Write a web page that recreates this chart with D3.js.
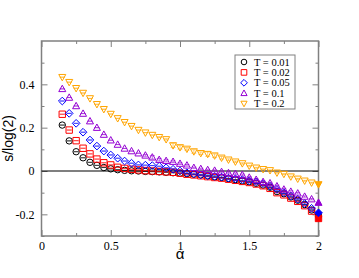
<!DOCTYPE html>
<html>
<head>
<meta charset="utf-8">
<script src="https://cdn.jsdelivr.net/npm/d3@7"></script>
<style>
  body { margin: 0; background: #fff; }
  svg { display: block; }
</style>
</head>
<body>
<div id="chart"></div>
<script>
const ALPHA = [0.15, 0.2, 0.25, 0.3, 0.35, 0.4, 0.45, 0.5, 0.55, 0.6, 0.65, 0.7, 0.75, 0.8,
  0.85, 0.9, 0.95, 1.0, 1.05, 1.1, 1.15, 1.2, 1.25, 1.3, 1.35, 1.4, 1.45, 1.5, 1.55, 1.6,
  1.65, 1.7, 1.75, 1.8, 1.85, 1.9, 1.95, 2.0];

const LABELS = ["T = 0.01", "T = 0.02", "T = 0.05", "T = 0.1", "T = 0.2"];

const S_T001 = [0.212, 0.139, 0.089, 0.061, 0.040, 0.026, 0.016, 0.010, 0.006, 0.003, 0.001,
  0.000, -0.002, -0.003, -0.004, -0.006, -0.008, -0.010, -0.012, -0.015, -0.018, -0.022,
  -0.027, -0.030, -0.035, -0.040, -0.046, -0.050, -0.057, -0.065, -0.075, -0.095, -0.105,
  -0.120, -0.135, -0.155, -0.180, -0.208];
const S_T002 = [0.262, 0.189, 0.140, 0.105, 0.079, 0.055, 0.038, 0.028, 0.017, 0.012, 0.008,
  0.005, 0.002, 0.000, -0.002, -0.004, -0.006, -0.010, -0.015, -0.018, -0.022, -0.026,
  -0.030, -0.033, -0.038, -0.043, -0.048, -0.053, -0.060, -0.068, -0.080, -0.100, -0.110,
  -0.125, -0.140, -0.160, -0.185, -0.219];
const S_T005 = [0.323, 0.266, 0.220, 0.179, 0.143, 0.115, 0.092, 0.074, 0.059, 0.046, 0.036,
  0.028, 0.027, 0.025, 0.022, 0.015, 0.008, 0.000, -0.008, -0.013, -0.018, -0.022, -0.025,
  -0.028, -0.033, -0.036, -0.040, -0.045, -0.050, -0.058, -0.070, -0.085, -0.100, -0.115,
  -0.130, -0.150, -0.172, -0.193];
const S_T01 = [0.379, 0.339, 0.300, 0.265, 0.230, 0.200, 0.168, 0.142, 0.122, 0.104, 0.092,
  0.082, 0.072, 0.063, 0.052, 0.047, 0.043, 0.034, 0.026, 0.015, 0.010, 0.005, 0.002, -0.004,
  -0.009, -0.013, -0.018, -0.030, -0.040, -0.050, -0.056, -0.070, -0.085, -0.095, -0.103,
  -0.118, -0.130, -0.146];
const S_T02 = [0.433, 0.410, 0.382, 0.360, 0.335, 0.308, 0.285, 0.263, 0.243, 0.225, 0.207,
  0.189, 0.177, 0.166, 0.156, 0.146, 0.118, 0.109, 0.102, 0.090, 0.082, 0.078, 0.071, 0.061,
  0.052, 0.043, 0.035, 0.024, 0.015, 0.008, 0.003, -0.008, -0.014, -0.026, -0.036, -0.045,
  -0.054, -0.062];

// error bars (mostly tiny)
const E_T01 = [0, 0, 0, 0, 0, 0, 0, 0, 0, 0, 0, 0, 0.004, 0.008, 0.006, 0.005, 0.004, 0.004,
  0.004, 0.003, 0.003, 0.003, 0.003, 0.004, 0.004, 0.004, 0.004, 0.004, 0.004, 0.004, 0.004,
  0.005, 0.005, 0.004, 0.004, 0.003, 0.003, 0];
const E_T02 = [0, 0, 0, 0, 0, 0, 0, 0, 0, 0, 0, 0, 0, 0, 0.002, 0.003, 0.010, 0.008, 0.006,
  0.008, 0.006, 0.010, 0.008, 0.006, 0.004, 0.003, 0.003, 0.002, 0.002, 0.002, 0.002, 0.002,
  0.002, 0.002, 0.002, 0.002, 0.002, 0];
const E_T005 = [0, 0, 0, 0, 0, 0, 0, 0, 0, 0, 0, 0, 0, 0, 0, 0, 0.003, 0.003, 0.003, 0.003,
  0.003, 0.004, 0.004, 0.005, 0.006, 0.008, 0.006, 0.006, 0.008, 0.006, 0.005, 0.005, 0.004,
  0.004, 0.003, 0.003, 0.003, 0];

const SERIES = [
  { values: S_T001, errors: null, color: "#000000", shape: "circle" },
  { values: S_T002, errors: null, color: "#ff0000", shape: "square" },
  { values: S_T005, errors: E_T005, color: "#0000ff", shape: "diamond" },
  { values: S_T01, errors: E_T01, color: "#9400d3", shape: "up" },
  { values: S_T02, errors: E_T02, color: "#ffa500", shape: "down" }
];

const WIDTH = 359;
const HEIGHT = 278;
const LEFT = 41.5, RIGHT = 318.5, TOP = 41, BOTTOM = 236;
const AXIS_COLOR = "#808080";
const SERIF = "'Liberation Serif', 'Times New Roman', Times, serif";
const SANS = "'Liberation Sans', Arial, Helvetica, sans-serif";

const x = d3.scaleLinear().domain([0, 2]).range([LEFT, RIGHT]);
const y = d3.scaleLinear().domain([-0.3, 0.6]).range([BOTTOM, TOP]);

function marker(shape, r) {
  if (shape === "circle") {
    return `M${r},0A${r},${r} 0 1,1 ${-r},0A${r},${r} 0 1,1 ${r},0Z`;
  }
  if (shape === "square") {
    return `M${-r},${-r}H${r}V${r}H${-r}Z`;
  }
  if (shape === "diamond") {
    const d = r * 1.2;
    return `M0,${-d}L${d},0L0,${d}L${-d},0Z`;
  }
  if (shape === "up") {
    return `M0,${-r * 1.15}L${r * 1.1},${r * 0.85}L${-r * 1.1},${r * 0.85}Z`;
  }
  return `M0,${r * 1.15}L${r * 1.1},${-r * 0.85}L${-r * 1.1},${-r * 0.85}Z`;
}

const svg = d3.select("#chart").append("svg")
    .attr("width", WIDTH)
    .attr("height", HEIGHT);

// axes: ticks pointing inward on all four sides
const xMajor = [0, 0.5, 1, 1.5, 2];
const xMinor = [0.25, 0.75, 1.25, 1.75];
const yMajor = [-0.2, 0, 0.2, 0.4];
const yMinor = [-0.3, -0.1, 0.1, 0.3, 0.5];

function styleAxis(g) {
  g.attr("font-family", SERIF).attr("font-size", 12);
  g.select(".domain").remove();
  g.selectAll(".tick line").attr("stroke", AXIS_COLOR).attr("stroke-width", 1);
  g.selectAll(".tick text")
      .attr("fill", "#000")
      .style("font-family", SERIF)
      .style("font-size", "12px");
}

svg.append("g")
    .attr("transform", `translate(0,${BOTTOM})`)
    .call(d3.axisBottom(x).tickValues(xMajor).tickSize(-6).tickPadding(5).tickFormat(d => String(d)))
    .call(styleAxis);
svg.append("g")
    .attr("transform", `translate(0,${BOTTOM})`)
    .call(d3.axisBottom(x).tickValues(xMinor).tickSize(-3).tickFormat(""))
    .call(styleAxis);
svg.append("g")
    .attr("transform", `translate(0,${TOP})`)
    .call(d3.axisTop(x).tickValues(xMajor).tickSize(-6).tickFormat(""))
    .call(styleAxis);
svg.append("g")
    .attr("transform", `translate(0,${TOP})`)
    .call(d3.axisTop(x).tickValues(xMinor).tickSize(-3).tickFormat(""))
    .call(styleAxis);

svg.append("g")
    .attr("transform", `translate(${LEFT},0)`)
    .call(d3.axisLeft(y).tickValues(yMajor).tickSize(-6).tickPadding(7).tickFormat(d => String(d)))
    .call(styleAxis);
svg.append("g")
    .attr("transform", `translate(${LEFT},0)`)
    .call(d3.axisLeft(y).tickValues(yMinor).tickSize(-3).tickFormat(""))
    .call(styleAxis);
svg.append("g")
    .attr("transform", `translate(${RIGHT},0)`)
    .call(d3.axisRight(y).tickValues(yMajor).tickSize(-6).tickFormat(""))
    .call(styleAxis);
svg.append("g")
    .attr("transform", `translate(${RIGHT},0)`)
    .call(d3.axisRight(y).tickValues(yMinor).tickSize(-3).tickFormat(""))
    .call(styleAxis);

svg.append("rect")
    .attr("x", LEFT)
    .attr("y", TOP)
    .attr("width", RIGHT - LEFT)
    .attr("height", BOTTOM - TOP)
    .attr("fill", "none")
    .attr("stroke", AXIS_COLOR)
    .attr("stroke-width", 1.5);

// zero line
svg.append("line")
    .attr("x1", x(0)).attr("x2", x(2))
    .attr("y1", y(0)).attr("y2", y(0))
    .attr("stroke", "#000")
    .attr("stroke-width", 1.2);

// data
SERIES.forEach(s => {
  const pts = s.values.map((v, i) => ({ a: ALPHA[i], v: v, e: s.errors ? s.errors[i] : 0 }));
  const g = svg.append("g");

  const pt = g.selectAll("g")
    .data(pts)
    .enter().append("g")
      .attr("transform", d => `translate(${x(d.a)},${y(d.v)})`);

  // error bars with caps (a cap crosses the marker when the error is tiny)
  pt.append("path")
      .attr("d", d => {
        const up = y(d.v + d.e) - y(d.v);
        const dn = y(d.v - d.e) - y(d.v);
        return `M0,${up}V${dn}M-2.5,${up}H2.5M-2.5,${dn}H2.5`;
      })
      .attr("stroke", s.color)
      .attr("stroke-opacity", 0.55)
      .attr("stroke-width", 1)
      .attr("fill", "none");

  pt.append("path")
      .attr("d", marker(s.shape, 3.2))
      .attr("fill", d => d.a === 2 ? s.color : "none")
      .attr("stroke", s.color)
      .attr("stroke-width", 1);
});

// legend
const legend = svg.append("g");
legend.append("rect")
    .attr("x", 235)
    .attr("y", 55)
    .attr("width", 60)
    .attr("height", 54)
    .attr("fill", "#fff")
    .attr("stroke", AXIS_COLOR)
    .attr("stroke-width", 1);

const item = legend.selectAll("g.item")
  .data(SERIES)
  .enter().append("g")
    .attr("class", "item")
    .attr("transform", (d, i) => `translate(244,${62 + i * 10.4})`);

item.append("path")
    .attr("d", d => marker(d.shape, 2.8))
    .attr("fill", "none")
    .attr("stroke", d => d.color)
    .attr("stroke-width", 1);

item.append("text")
    .text((d, i) => LABELS[i])
    .attr("x", 10)
    .attr("y", 3.5)
    .attr("font-family", SERIF)
    .style("font-family", SERIF)
    .style("font-size", "10.5px");

// axis titles
svg.append("text")
    .text("α")
    .attr("x", (LEFT + RIGHT) / 2)
    .attr("y", 259)
    .attr("text-anchor", "middle")
    .style("font-family", SANS)
    .style("font-size", "15px");

svg.append("text")
    .text("s/log(2)")
    .attr("transform", `translate(13,${(TOP + BOTTOM) / 2}) rotate(-90)`)
    .attr("text-anchor", "middle")
    .style("font-family", SANS)
    .style("font-size", "14px");
</script>
</body>
</html>
